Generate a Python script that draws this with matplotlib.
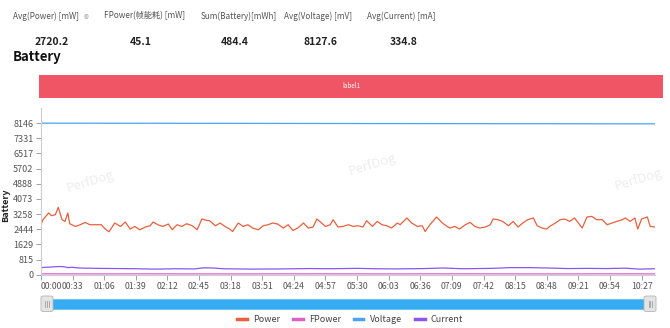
import matplotlib
matplotlib.use('Agg')
import matplotlib.pyplot as plt
from matplotlib.patches import Rectangle, FancyBboxPatch
from matplotlib.lines import Line2D

plt.rcParams['font.family'] = ['Noto Sans CJK SC', 'DejaVu Sans']

# ---------------- data ----------------
summary_labels = ['Avg(Power) [mW]', 'FPower(帧能耗) [mW]', 'Sum(Battery)[mWh]',
                  'Avg(Voltage) [mV]', 'Avg(Current) [mA]']
summary_values = ['2720.2', '45.1', '484.4', '8127.6', '334.8']

power_t = [0, 2, 8, 11, 15, 18, 22, 25, 28, 30, 36, 41, 46, 51, 58, 63, 67, 71, 77, 83,
           88, 93, 98, 103, 109, 114, 117, 122, 127, 133, 137, 142, 147, 152, 158, 163,
           168, 173, 176, 182, 187, 192, 197, 200, 206, 211, 216, 221, 227, 232, 237, 242,
           247, 253, 258, 263, 268, 270, 274, 279, 284, 288, 291, 297, 302, 305, 310, 315,
           321, 326, 331, 336, 340, 346, 351, 356, 361, 366, 372, 375, 382, 387, 393, 398,
           401, 406, 409, 413, 419, 424, 427, 432, 437, 443, 448, 453, 458, 464, 469, 472,
           477, 482, 488, 493, 498, 503, 508, 514, 518, 523, 528, 531, 537, 542, 547, 552,
           557, 561, 565, 570, 575, 580, 586, 591, 596, 601, 607, 610, 615, 620, 623, 627,
           633, 636, 641]
power_v = [2686, 2957, 3319, 3173, 3227, 3621, 2957, 2865, 3319, 2740, 2594, 2686, 2811,
           2686, 2686, 2686, 2454, 2308, 2778, 2594, 2832, 2454, 2594, 2416, 2562, 2632,
           2832, 2686, 2594, 2724, 2416, 2686, 2594, 2740, 2632, 2416, 2994, 2919, 2902,
           2632, 2778, 2594, 2454, 2324, 2778, 2594, 2686, 2508, 2416, 2632, 2686, 2778,
           2724, 2508, 2686, 2378, 2508, 2594, 2778, 2508, 2562, 2994, 2865, 2594, 2686,
           2957, 2562, 2594, 2686, 2594, 2632, 2562, 2902, 2594, 2865, 2686, 2632, 2508,
           2778, 2686, 3048, 2778, 2594, 2632, 2324, 2686, 2865, 3102, 2778, 2594, 2508,
           2594, 2454, 2686, 2811, 2594, 2508, 2562, 2686, 2994, 2957, 2865, 2632, 2865,
           2562, 2778, 2957, 3048, 2632, 2508, 2454, 2594, 2778, 2957, 2994, 2865, 3048,
           2778, 2508, 3102, 3135, 2957, 2957, 2686, 2778, 2865, 2957, 3048, 2865, 3048,
           2454, 2994, 3102, 2594, 2562]

fpower_t = [0, 60, 120, 180, 240, 300, 360, 420, 480, 540, 600, 641]
fpower_v = [48, 44, 46, 43, 45, 47, 44, 46, 45, 44, 46, 45]

voltage_t = [0, 100, 200, 300, 400, 500, 641]
voltage_v = [8146, 8140, 8135, 8128, 8122, 8116, 8108]

current_t = [0, 5, 10, 15, 20, 25, 28, 32, 40, 60, 80, 100, 120, 140, 160, 170, 180, 190,
             220, 250, 280, 300, 330, 350, 370, 400, 420, 440, 470, 490, 510, 530, 550,
             570, 590, 610, 625, 641]
current_v = [380, 400, 410, 430, 440, 420, 380, 400, 360, 340, 330, 320, 300, 320, 310,
             370, 360, 320, 300, 310, 330, 320, 340, 320, 310, 330, 360, 320, 340, 380,
             380, 360, 330, 340, 330, 350, 300, 320]

y_ticks = [0, 815, 1629, 2444, 3258, 4073, 4888, 5702, 6517, 7331, 8146]
x_ticks = [0, 33, 66, 99, 132, 165, 198, 231, 264, 297, 330, 363, 396, 429, 462, 495,
           528, 561, 594, 627]
x_labels = ['00:00', '00:33', '01:06', '01:39', '02:12', '02:45', '03:18', '03:51',
            '04:24', '04:57', '05:30', '06:03', '06:36', '07:09', '07:42', '08:15',
            '08:48', '09:21', '09:54', '10:27']

series_names = ['Power', 'FPower', 'Voltage', 'Current']
series_colors = ['#e8603c', '#e060c8', '#4aa3f5', '#8a55f0']

# ---------------- figure ----------------
W, H = 670, 328
fig = plt.figure(figsize=(6.7, 3.28), dpi=100)


def fx(px):
    return px / W


def fy(py):
    return 1 - py / H


# header
label_x = [13, 104, 201, 284, 367]
value_x = [52, 141, 235, 321, 404]
for lx, lab in zip(label_x, summary_labels):
    fig.text(fx(lx), fy(16), lab, fontsize=5.9, color='#555555', ha='left', va='center')
fig.text(fx(84), fy(16), '◍', fontsize=4, color='#999999', ha='left', va='center',
         family=['DejaVu Sans'])
for vx, val in zip(value_x, summary_values):
    fig.text(fx(vx), fy(42), val, fontsize=7.5, color='#222222', ha='center', va='center',
             fontweight='bold')

fig.text(fx(13), fy(57), 'Battery', fontsize=9.5, fontweight='bold', color='#111111',
         ha='left', va='center')

# red banner
fig.patches.append(Rectangle((fx(39), fy(97.5)), fx(663) - fx(39), fy(75) - fy(97.5),
                             transform=fig.transFigure, facecolor='#ef5565',
                             edgecolor='none'))
fig.text(fx(351), fy(86), 'label1', fontsize=4.5, color='white', ha='center', va='center')

# main axes
ax = fig.add_axes([fx(41), fy(274.7), fx(655) - fx(41), fy(108) - fy(274.7)])
ax.plot(power_t, power_v, color=series_colors[0], lw=0.9)
ax.plot(fpower_t, fpower_v, color=series_colors[1], lw=0.9)
ax.plot(voltage_t, voltage_v, color=series_colors[2], lw=0.9)
ax.plot(current_t, current_v, color=series_colors[3], lw=0.9)

ax.set_xlim(0, 641)
ax.set_ylim(0, 8146 * 1.1)
ax.set_yticks(y_ticks)
ax.set_yticklabels([str(v) for v in y_ticks])
ax.set_xticks(x_ticks)
ax.set_xticklabels(x_labels)
ax.get_xticklabels()[0].set_horizontalalignment('left')
for s in ['top', 'right']:
    ax.spines[s].set_visible(False)
for s in ['left', 'bottom']:
    ax.spines[s].set_color('#c8ccd4')
    ax.spines[s].set_linewidth(0.8)
ax.tick_params(axis='both', length=3.5, width=0.7, color='#9aa0aa', labelcolor='#555555',
               labelsize=6.3, pad=2)
ax.tick_params(axis='y', labelsize=6.5)

fig.text(fx(6), fy(205), 'Battery', rotation=90, fontsize=6.5, fontweight='bold',
         color='#222222', ha='center', va='center')

# watermarks
for (wx, wy) in [(90, 182), (372, 165), (638, 180)]:
    fig.text(fx(wx), fy(wy), 'PerfDog', rotation=17, fontsize=9.5, color='#eeeeee',
             ha='center', va='center')

# slider
fig.patches.append(Rectangle((fx(46), fy(309)), fx(650) - fx(46), fy(298.5) - fy(309),
                             transform=fig.transFigure, facecolor='#36adf2',
                             edgecolor='#5bbcf5', lw=0.5))
for hx in [41, 644]:
    fig.patches.append(FancyBboxPatch((fx(hx), fy(311.5)), fx(12) - fx(0), fy(296) - fy(311.5),
                                      boxstyle='round,pad=0,rounding_size=0.004',
                                      transform=fig.transFigure, facecolor='#e4e4e4',
                                      edgecolor='#b5b5b5', lw=0.6))
    for k in range(3):
        fig.lines.append(Line2D([fx(hx + 4.5 + 1.5 * k)] * 2, [fy(306.5), fy(301)],
                                transform=fig.transFigure, color='#909090', lw=0.5))

# legend
handles = [Line2D([], [], color=c, lw=2.5) for c in series_colors]
fig.legend(handles, series_names, loc='center', bbox_to_anchor=(fx(350), fy(319.5)),
           ncol=4, frameon=False, fontsize=6.5, handlelength=1.1, handletextpad=0.7,
           columnspacing=1.4, labelcolor='#444444')

fig.savefig('out.png', dpi=100)
